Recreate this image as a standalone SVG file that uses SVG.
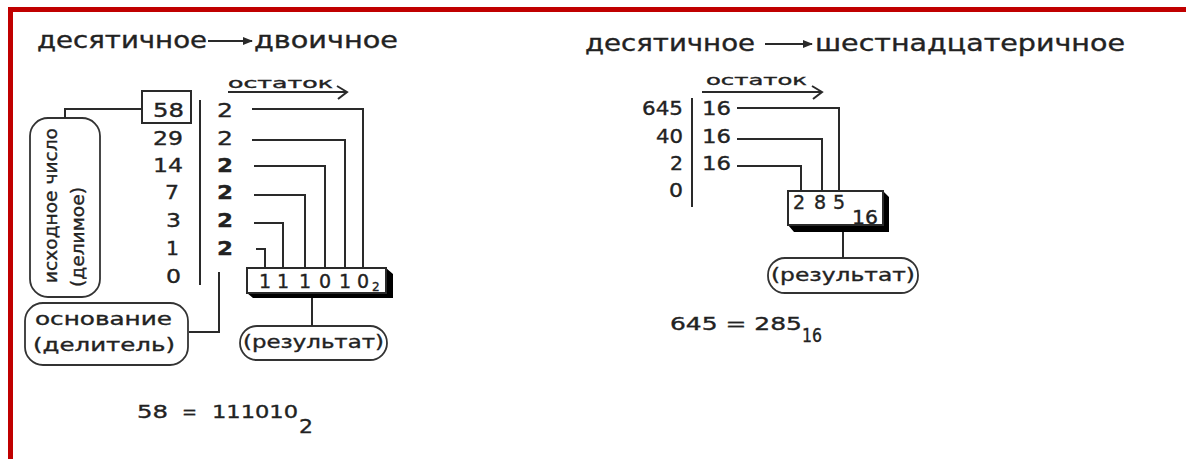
<svg xmlns="http://www.w3.org/2000/svg" width="1186" height="459" viewBox="0 0 1186 459">
<style>
.t{font-family:"DejaVu Sans","Liberation Sans",Arial,sans-serif;fill:#222;stroke:#222;stroke-width:0.35}
.title{font-size:23px}
.num{font-size:19px}
.dv{font-size:20px}
.lab{font-size:18px}
.small{font-size:14px}
.b{font-weight:bold}
.ln{fill:none;stroke:#2a2a2a;stroke-width:2}
.box{fill:#fff;stroke:#2a2a2a;stroke-width:2}
.pill{fill:#fff;stroke:#333;stroke-width:1.8}
</style>
<defs>
<marker id="ah" markerWidth="10" markerHeight="8" refX="9" refY="4" orient="auto" markerUnits="userSpaceOnUse">
<path d="M0,0 L10,4 L0,8 Z" fill="#2a2a2a"/>
</marker>
</defs>
<rect width="1186" height="459" fill="#fff"/>
<rect x="8" y="7" width="1178" height="5" fill="#c00000"/>
<rect x="8" y="7" width="5" height="452" fill="#c00000"/>

<!-- Left: decimal to binary -->
<g id="title-left">
<text class="t title" x="37" y="48" textLength="170" lengthAdjust="spacingAndGlyphs">десятичное</text>
<line class="ln" x1="208" y1="41" x2="252" y2="41" marker-end="url(#ah)"/>
<text class="t title" x="254" y="48" textLength="144" lengthAdjust="spacingAndGlyphs">двоичное</text>
</g>
<g id="remainder-left">
<text class="t small" x="228" y="88" textLength="105" lengthAdjust="spacingAndGlyphs">остаток</text>
<polyline class="ln" points="228,92 346,92"/>
<polyline class="ln" points="337,86 347,92 338,99"/>
</g>
<g id="dividend-box">
<rect class="box" x="142" y="91" width="49" height="32"/>
</g>
<g id="quotients-left">
<text class="t num" text-anchor="end" x="184" y="117" textLength="31" lengthAdjust="spacingAndGlyphs">58</text>
<text class="t num" text-anchor="end" x="183" y="145" textLength="30" lengthAdjust="spacingAndGlyphs">29</text>
<text class="t num" text-anchor="end" x="183" y="172" textLength="30" lengthAdjust="spacingAndGlyphs">14</text>
<text class="t num" text-anchor="end" x="179" y="199" textLength="14" lengthAdjust="spacingAndGlyphs">7</text>
<text class="t num" text-anchor="end" x="181" y="227" textLength="15" lengthAdjust="spacingAndGlyphs">3</text>
<text class="t num" text-anchor="end" x="179" y="255" textLength="13" lengthAdjust="spacingAndGlyphs">1</text>
<text class="t num" text-anchor="end" x="181" y="283" textLength="15" lengthAdjust="spacingAndGlyphs">0</text>
</g>
<g id="divisors-left">
<text class="t dv" text-anchor="middle" x="225" y="117" textLength="16" lengthAdjust="spacingAndGlyphs">2</text>
<text class="t dv" text-anchor="middle" x="225" y="145" textLength="16" lengthAdjust="spacingAndGlyphs">2</text>
<text class="t dv b" text-anchor="middle" x="225" y="172" textLength="16" lengthAdjust="spacingAndGlyphs">2</text>
<text class="t dv b" text-anchor="middle" x="225" y="199" textLength="16" lengthAdjust="spacingAndGlyphs">2</text>
<text class="t dv b" text-anchor="middle" x="225" y="227" textLength="16" lengthAdjust="spacingAndGlyphs">2</text>
<text class="t dv b" text-anchor="middle" x="225" y="255" textLength="16" lengthAdjust="spacingAndGlyphs">2</text>
</g>
<g id="result-box-left">
<polygon points="386,268 393,274 393,298 253,298 247,293 386,293" fill="#000"/>
<rect class="box" x="247" y="268" width="139" height="25"/>
<text class="t num" text-anchor="middle" y="288"><tspan x="265">1</tspan><tspan x="283">1</tspan><tspan x="305">1</tspan><tspan x="325">0</tspan><tspan x="345">1</tspan><tspan x="363">0</tspan></text>
<text class="t" style="font-size:12px" x="372" y="291">2</text>
</g>
<g id="dividend-label">
<rect class="pill" x="30" y="118" width="70" height="179" rx="18"/>
<text class="t lab" transform="translate(57,283) rotate(-90)" textLength="155" lengthAdjust="spacingAndGlyphs">исходное число</text>
<text class="t lab" transform="translate(84,287) rotate(-90)" textLength="100" lengthAdjust="spacingAndGlyphs">(делимое)</text>
</g>
<g id="divisor-label">
<rect class="pill" x="25" y="303" width="163" height="62" rx="18"/>
<text class="t lab" x="35" y="325" textLength="137" lengthAdjust="spacingAndGlyphs">основание</text>
<text class="t lab" x="33" y="351" textLength="142" lengthAdjust="spacingAndGlyphs">(делитель)</text>
</g>
<g id="result-label-left">
<rect class="pill" x="240" y="326" width="147" height="34" rx="17"/>
<text class="t lab" x="243" y="348" textLength="141" lengthAdjust="spacingAndGlyphs">(результат)</text>
</g>
<g id="equation-left">
<text class="t" style="font-size:18px" x="137" y="418" textLength="31" lengthAdjust="spacingAndGlyphs">58</text>
<text class="t" style="font-size:18px" x="182" y="418" textLength="15" lengthAdjust="spacingAndGlyphs">=</text>
<text class="t" style="font-size:18px" x="212" y="418" textLength="86" lengthAdjust="spacingAndGlyphs">111010</text>
<text class="t" style="font-size:20px" x="299" y="433" textLength="14" lengthAdjust="spacingAndGlyphs">2</text>
</g>

<!-- Right: decimal to hexadecimal -->
<g id="title-right">
<text class="t title" x="585" y="51" textLength="170" lengthAdjust="spacingAndGlyphs">десятичное</text>
<line class="ln" x1="765" y1="44" x2="812" y2="44" marker-end="url(#ah)"/>
<text class="t title" x="815" y="51" textLength="310" lengthAdjust="spacingAndGlyphs">шестнадцатеричное</text>
</g>
<g id="remainder-right">
<text class="t small" x="706" y="85" textLength="101" lengthAdjust="spacingAndGlyphs">остаток</text>
<polyline class="ln" points="702,92 821,92"/>
<polyline class="ln" points="812,86 822,92 813,99"/>
</g>
<g id="quotients-right">
<text class="t num" text-anchor="end" x="683" y="115" textLength="41" lengthAdjust="spacingAndGlyphs">645</text>
<text class="t num" text-anchor="end" x="683" y="143" textLength="27" lengthAdjust="spacingAndGlyphs">40</text>
<text class="t num" text-anchor="end" x="683" y="170" textLength="13" lengthAdjust="spacingAndGlyphs">2</text>
<text class="t num" text-anchor="end" x="683" y="197" textLength="14" lengthAdjust="spacingAndGlyphs">0</text>
</g>
<g id="divisors-right">
<text class="t num" x="702" y="115" textLength="29" lengthAdjust="spacingAndGlyphs">16</text>
<text class="t num" x="702" y="143" textLength="29" lengthAdjust="spacingAndGlyphs">16</text>
<text class="t num" x="702" y="170" textLength="29" lengthAdjust="spacingAndGlyphs">16</text>
</g>
<g id="result-box-right">
<polygon points="883,191 889,197 889,232 794,232 788,225 883,225" fill="#000"/>
<rect class="box" x="788" y="191" width="95" height="34"/>
<text class="t num" text-anchor="middle" y="209"><tspan x="799">2</tspan><tspan x="820">8</tspan><tspan x="839">5</tspan></text>
<text class="t num" x="852" y="224" textLength="26" lengthAdjust="spacingAndGlyphs">16</text>
</g>
<g id="result-label-right">
<rect class="pill" x="768" y="258" width="150" height="35" rx="17"/>
<text class="t lab" x="771" y="281" textLength="144" lengthAdjust="spacingAndGlyphs">(результат)</text>
</g>
<g id="equation-right">
<text class="t" style="font-size:18px" x="670" y="330" textLength="132" lengthAdjust="spacingAndGlyphs">645 = 285</text>
<text class="t" style="font-size:19px" x="802" y="342" textLength="20" lengthAdjust="spacingAndGlyphs">16</text>
</g>

<g id="connectors">
<line class="ln" x1="200" y1="100" x2="200" y2="285"/>
<line class="ln" x1="692" y1="98" x2="692" y2="207"/>
<polyline class="ln" points="65,118 65,109 142,109"/>
<polyline class="ln" points="189,332 219,332 219,272"/>
<polyline class="ln" points="252,109 363,109 363,268"/>
<polyline class="ln" points="252,140 345,140 345,268"/>
<polyline class="ln" points="254,166 325,166 325,268"/>
<polyline class="ln" points="254,195 305,195 305,268"/>
<polyline class="ln" points="254,223 283,223 283,268"/>
<polyline class="ln" points="256,249 265,249 265,268"/>
<line class="ln" x1="312" y1="298" x2="312" y2="326"/>
<polyline class="ln" points="737,108 839,108 839,191"/>
<polyline class="ln" points="737,139 822,139 822,191"/>
<polyline class="ln" points="737,166 801,166 801,191"/>
<line class="ln" x1="843" y1="232" x2="843" y2="258"/>
</g>
</svg>
